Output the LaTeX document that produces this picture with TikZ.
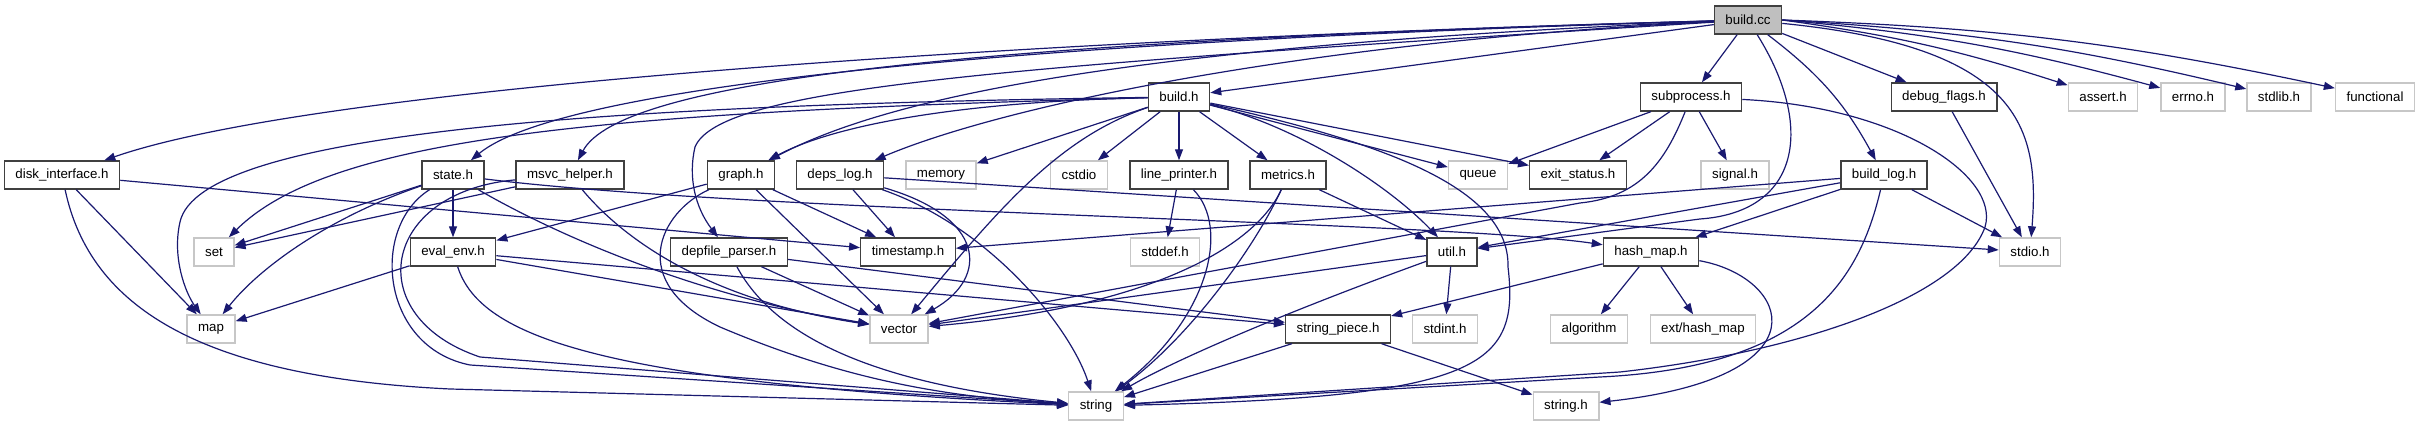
\documentclass[tikz,border=0pt]{standalone}
\usepackage{fontspec}
\setmainfont{Liberation Sans}
\usepackage{xcolor}
\usepackage{tikz}
\usetikzlibrary{arrows.meta}
\definecolor{edgeblue}{HTML}{191970}
\tikzset{
    hdr/.style={rectangle, minimum height=28pt, inner xsep=11pt, inner ysep=0pt, text centered, draw=black!75, line width=1.4pt, fill=white, font=\fontsize{13.3}{16}\selectfont},
    sys/.style={hdr, draw=black!22},
    src/.style={hdr, draw=black!75, fill=black!25},
    dep/.style={draw=edgeblue, line width=1.2pt, -{Triangle[length=11pt,width=8pt]}}
}
\begin{document}
\begin{tikzpicture}[x=1pt, y=1pt]
    \useasboundingbox (0,0) rectangle (2419,427);

    \node (buildcc) [src] at (1748,407) {build.cc};

    \node (buildh) [hdr] at (1179,330) {build.h};
    \node (subproc) [hdr] at (1691,330) {subprocess.h};
    \node (debugflags) [hdr] at (1944,330) {debug\_flags.h};
    \node (assert) [sys] at (2103,330) {assert.h};
    \node (errno) [sys] at (2193,330) {errno.h};
    \node (stdlib) [sys] at (2279,330) {stdlib.h};
    \node (functional) [sys] at (2375,330) {functional};

    \node (disk) [hdr] at (62,252) {disk\_interface.h};
    \node (state) [hdr] at (453,252) {state.h};
    \node (msvc) [hdr] at (570,252) {msvc\_helper.h};
    \node (graph) [hdr] at (741,252) {graph.h};
    \node (depslog) [hdr] at (840,252) {deps\_log.h};
    \node (memory) [sys] at (941,252) {memory};
    \node (cstdio) [sys] at (1079,252) {cstdio};
    \node (lineprinter) [hdr] at (1179,252) {line\_printer.h};
    \node (metrics) [hdr] at (1288,252) {metrics.h};
    \node (queue) [sys] at (1478,252) {queue};
    \node (exitstatus) [hdr] at (1578,252) {exit\_status.h};
    \node (signal) [sys] at (1735,252) {signal.h};
    \node (buildlog) [hdr] at (1884,252) {build\_log.h};

    \node (set) [sys] at (214,175) {set};
    \node (evalenv) [hdr] at (453,175) {eval\_env.h};
    \node (depfile) [hdr] at (729,175) {depfile\_parser.h};
    \node (timestamp) [hdr] at (908,175) {timestamp.h};
    \node (stddef) [sys] at (1165,175) {stddef.h};
    \node (util) [hdr] at (1452,175) {util.h};
    \node (hashmap) [hdr] at (1651,175) {hash\_map.h};
    \node (stdio) [sys] at (2030,175) {stdio.h};

    \node (map) [sys] at (211,98) {map};
    \node (vector) [sys] at (899,98) {vector};
    \node (strpiece) [hdr] at (1338,98) {string\_piece.h};
    \node (stdint) [sys] at (1445,98) {stdint.h};
    \node (algorithm) [sys] at (1589,98) {algorithm};
    \node (exthashmap) [sys] at (1703,98) {ext/hash\_map};

    \node (string) [sys] at (1096,21) {string};
    \node (stringh) [sys] at (1566,21) {string.h};

    \draw [dep] (buildcc) -- (buildh);
    \draw [dep] (buildcc) -- (subproc);
    \draw [dep] (buildcc) -- (debugflags);
    \draw [dep] (buildcc) to[bend left=12] (buildlog);
    \draw [dep] (buildcc.east) to[bend left=5] (assert);
    \draw [dep] (buildcc.east) to[bend left=5] (errno);
    \draw [dep] (buildcc.east) to[bend left=5] (stdlib);
    \draw [dep] (buildcc.east) to[bend left=5] (functional);
    \draw [dep] (buildcc) .. controls (2020,380) and (2040,300) .. (stdio);
    \draw [dep] (buildcc) .. controls (1815,300) and (1800,215) .. (1700,208) -- (util);
    \draw [dep] (buildcc) .. controls (1100,390) and (330,345) .. (disk);
    \draw [dep] (buildcc) .. controls (1000,385) and (560,340) .. (state);
    \draw [dep] (buildcc) .. controls (950,385) and (620,345) .. (msvc);
    \draw [dep] (buildcc) .. controls (1100,380) and (880,325) .. (graph);
    \draw [dep] (buildcc) .. controls (1300,385) and (1000,320) .. (depslog);
    \draw [dep] (buildcc) .. controls (1000,360) and (720,340) .. (695,280) .. controls (688,250) and (695,220) .. (depfile);

    \draw [dep] (buildh) .. controls (600,315) and (330,290) .. (set);
    \draw [dep] (buildh) .. controls (600,322) and (200,295) .. (180,205) .. controls (172,170) and (185,135) .. (map);
    \draw [dep] (buildh) .. controls (950,325) and (830,300) .. (graph);
    \draw [dep] (buildh) -- (memory);
    \draw [dep] (buildh) -- (cstdio);
    \draw [dep] (buildh) -- (lineprinter);
    \draw [dep] (buildh) -- (metrics);
    \draw [dep] (buildh) -- (queue);
    \draw [dep] (buildh) -- (exitstatus);
    \draw [dep] (buildh) .. controls (1300,300) and (1390,240) .. (util);
    \draw [dep] (buildh) .. controls (1380,285) and (1510,240) .. (1508,160) .. controls (1520,60) and (1480,30) .. (string);
    \draw [dep] (buildh) .. controls (1060,290) and (1000,220) .. (vector);

    \draw [dep] (subproc) -- (queue);
    \draw [dep] (subproc) -- (exitstatus);
    \draw [dep] (subproc) -- (signal);
    \draw [dep] (subproc) .. controls (1665,265) and (1640,230) .. (1580,224) -- (vector);
    \draw [dep] (subproc) .. controls (1900,320) and (2000,250) .. (1985,200) .. controls (1960,130) and (1800,75) .. (1620,55) -- (string);

    \draw [dep] (debugflags) -- (stdio);

    \draw [dep] (buildlog) -- (timestamp);
    \draw [dep] (buildlog) -- (util);
    \draw [dep] (buildlog) -- (hashmap);
    \draw [dep] (buildlog) -- (stdio);
    \draw [dep] (buildlog) .. controls (1860,150) and (1810,60) .. (1600,50) -- (string);

    \draw [dep] (disk) -- (map);
    \draw [dep] (disk) -- (timestamp);
    \draw [dep] (disk) .. controls (90,120) and (200,50) .. (450,38) -- (string);

    \draw [dep] (state) -- (set);
    \draw [dep] (state) .. controls (330,210) and (260,160) .. (map);
    \draw [dep] (state) -- (evalenv);
    \draw [dep] (state) .. controls (560,190) and (700,130) .. (vector);
    \draw [dep] (state) .. controls (370,200) and (380,80) .. (470,62) -- (string);
    \draw [dep] (state) .. controls (750,215) and (1450,205) .. (hashmap);

    \draw [dep] (msvc) -- (set);
    \draw [dep] (msvc) .. controls (630,180) and (720,125) .. (vector);
    \draw [dep] (msvc) .. controls (380,235) and (360,110) .. (480,70) -- (string);

    \draw [dep] (graph) -- (evalenv);
    \draw [dep] (graph) -- (timestamp);
    \draw [dep] (graph) -- (vector);
    \draw [dep] (graph) .. controls (660,215) and (625,145) .. (720,100) .. controls (850,45) and (950,30) .. (string);

    \draw [dep] (depslog) -- (timestamp);
    \draw [dep] (depslog) .. controls (985,210) and (990,150) .. (vector);
    \draw [dep] (depslog) .. controls (990,200) and (1070,100) .. (string);
    \draw [dep] (depslog) -- (stdio);

    \draw [dep] (lineprinter) -- (stddef);
    \draw [dep] (lineprinter) .. controls (1230,200) and (1210,110) .. (string);

    \draw [dep] (metrics) -- (util);
    \draw [dep] (metrics) .. controls (1255,180) and (1150,120) .. (vector);
    \draw [dep] (metrics) .. controls (1255,180) and (1190,90) .. (string);

    \draw [dep] (evalenv) -- (map);
    \draw [dep] (evalenv) -- (vector);
    \draw [dep] (evalenv) -- (strpiece);
    \draw [dep] (evalenv) .. controls (480,90) and (600,45) .. (string);

    \draw [dep] (depfile) -- (vector);
    \draw [dep] (depfile) -- (strpiece);
    \draw [dep] (depfile) .. controls (780,80) and (900,40) .. (string);

    \draw [dep] (util) -- (vector);
    \draw [dep] (util) .. controls (1300,120) and (1180,70) .. (string);
    \draw [dep] (util) -- (stdint);

    \draw [dep] (hashmap) -- (algorithm);
    \draw [dep] (hashmap) -- (exthashmap);
    \draw [dep] (hashmap) -- (strpiece);
    \draw [dep] (hashmap) .. controls (1790,150) and (1830,50) .. (stringh);

    \draw [dep] (strpiece) -- (string);
    \draw [dep] (strpiece) -- (stringh);
\end{tikzpicture}
\end{document}
